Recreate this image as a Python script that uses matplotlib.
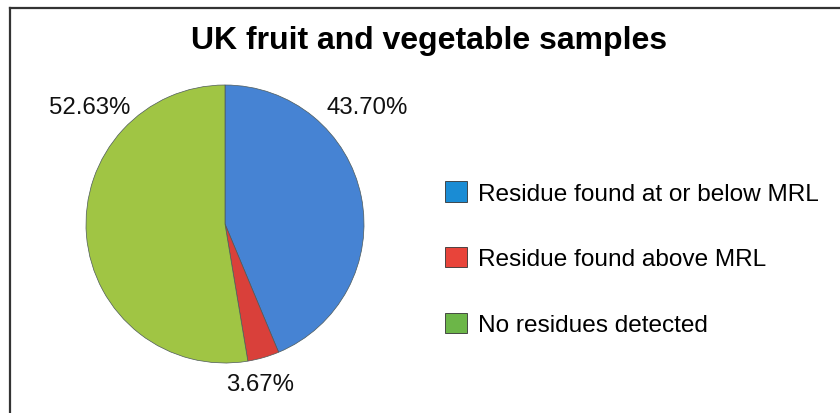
"""
UK fruit and vegetable samples - pesticide residue pie chart.
"""

import matplotlib
matplotlib.use("Agg")
import matplotlib.pyplot as plt
from matplotlib.patches import Patch
from matplotlib.lines import Line2D

# ---------------------------------------------------------------------------
# Data
# ---------------------------------------------------------------------------
TITLE = "UK fruit and vegetable samples"
CATEGORIES = [
    "Residue found at or below MRL",
    "Residue found above MRL",
    "No residues detected",
]
SHARES = [43.70, 3.67, 52.63]
PIE_COLOURS = ["#4683d3", "#d9403a", "#a0c544"]
LEGEND_COLOURS = ["#1a8cd4", "#e8443a", "#6cb648"]

# label offsets (pie radius units), Excel "best fit" style placement
LABEL_POS = [(1.02, 0.84), (0.25, -1.15), (-0.97, 0.84)]

W, H = 840, 414
plt.rcParams["font.family"] = ["Liberation Sans", "DejaVu Sans"]

fig = plt.figure(figsize=(W / 100, H / 100), dpi=100)

# pie centred at (225, 225) px with radius ~139 px
cx, cy, r = 225, 225, 139
ax = fig.add_axes([(cx - r) / W, (H - cy - r) / H, 2 * r / W, 2 * r / H])
wedges, _ = ax.pie(
    SHARES,
    colors=PIE_COLOURS,
    startangle=90,
    counterclock=False,
    radius=1.0,
    wedgeprops=dict(edgecolor="#4d5a5a", linewidth=0.5),
)
ax.set_xlim(-1, 1)
ax.set_ylim(-1, 1)
ax.set_aspect("equal")
ax.axis("off")

for val, (lx, ly) in zip(SHARES, LABEL_POS):
    ax.text(lx, ly, f"{val:.2f}%", ha="center", va="center",
            fontsize=17.3, color="#111111", clip_on=False)

fig.text(429 / W, 1 - 41 / H, TITLE, ha="center", va="center",
         fontsize=23, fontweight="bold", color="#000000")

handles = [Patch(facecolor=c, edgecolor="#333333", linewidth=0.6)
           for c in LEGEND_COLOURS]
fig.legend(
    handles, CATEGORIES,
    loc="upper left",
    bbox_to_anchor=(445 / W, 1 - 182 / H),
    frameon=False,
    fontsize=17.6,
    borderpad=0, borderaxespad=0,
    handlelength=0.92, handleheight=0.92,
    handletextpad=0.42, labelspacing=1.72,
)

# partial frame (top and left edges visible in the crop)
fig.add_artist(Line2D([9.5 / W, 1], [1 - 9 / H, 1 - 9 / H],
                      transform=fig.transFigure, color="#333333", linewidth=1.6))
fig.add_artist(Line2D([9.5 / W, 9.5 / W], [0, 1 - 9 / H],
                      transform=fig.transFigure, color="#333333", linewidth=1.6))

fig.savefig("out.png", dpi=100)
